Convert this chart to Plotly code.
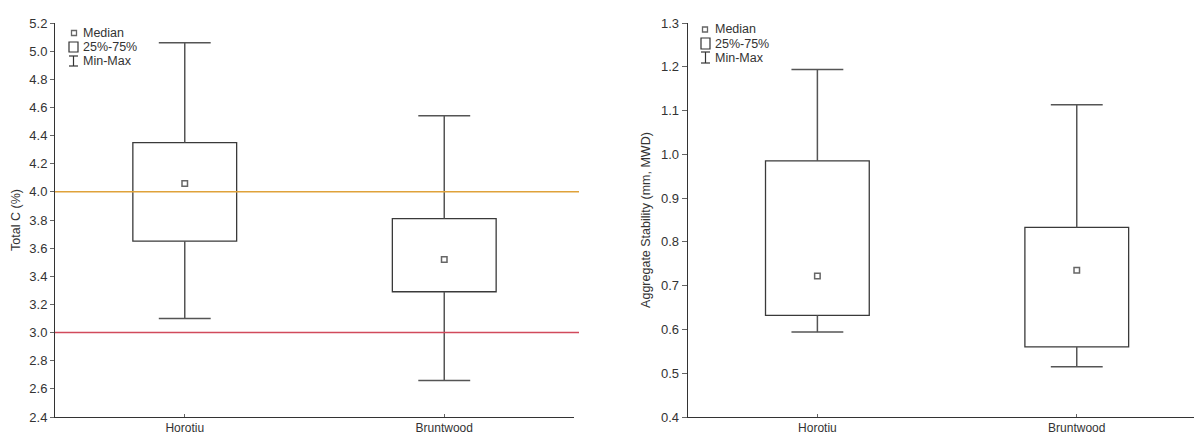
import plotly.graph_objects as go

W, H = 1194, 434
ML, MR, MT, MB = 0, 0, 23, 17

# Sites (x categories)
sites = ["Horotiu", "Bruntwood"]

# Total C (%) summary statistics per site
c_min = [3.10, 2.66]
c_q1 = [3.65, 3.29]
c_med = [4.06, 3.52]
c_q3 = [4.35, 3.81]
c_max = [5.06, 4.54]
c_refs = [(4.0, "#DFA23A"), (3.0, "#D14A5C")]

# Aggregate stability (mm, MWD) summary statistics per site
a_min = [0.594, 0.515]
a_q1 = [0.632, 0.560]
a_med = [0.722, 0.735]
a_q3 = [0.985, 0.833]
a_max = [1.194, 1.113]

FONT = "Arial, Liberation Sans, sans-serif"
TXT = "#333333"
BOX_W = 0.40
CAP_W = 0.20

fig = go.Figure()


def px_x(px):
    return (px - ML) / (W - ML - MR)


def px_y(py):
    return (H - MB - py) / (H - MT - MB)


def add_panel(xa, ya, lo, q1, med, q3, hi):
    xs = list(range(len(sites)))
    # interquartile boxes
    fig.add_trace(go.Bar(
        x=xs, y=[b - a for a, b in zip(q1, q3)], base=q1, width=BOX_W,
        marker=dict(color="white", line=dict(color="#3a3a3a", width=1.3)),
        xaxis=xa, yaxis=ya, showlegend=False, hoverinfo="skip"))
    # whiskers
    wx, wy = [], []
    for i in xs:
        wx += [i, i, None, i, i, None]
        wy += [q3[i], hi[i], None, lo[i], q1[i], None]
    fig.add_trace(go.Scatter(x=wx, y=wy, mode="lines",
                             line=dict(color="#555555", width=1.5),
                             xaxis=xa, yaxis=ya, showlegend=False, hoverinfo="skip"))
    # whisker caps
    cx, cy = [], []
    for i in xs:
        for v in (hi[i], lo[i]):
            cx += [i - CAP_W / 2, i + CAP_W / 2, None]
            cy += [v, v, None]
    fig.add_trace(go.Scatter(x=cx, y=cy, mode="lines",
                             line=dict(color="#555555", width=1.5),
                             xaxis=xa, yaxis=ya, showlegend=False, hoverinfo="skip"))
    # medians
    fig.add_trace(go.Scatter(x=xs, y=med, mode="markers",
                             marker=dict(symbol="square-open", size=5.5, color="#666666",
                                         line=dict(width=1.5)),
                             xaxis=xa, yaxis=ya, showlegend=False, hoverinfo="skip"))


add_panel("x", "y", c_min, c_q1, c_med, c_q3, c_max)
add_panel("x2", "y2", a_min, a_q1, a_med, a_q3, a_max)

# reference lines on the Total C panel
for val, col in c_refs:
    fig.add_shape(type="line", xref="paper", yref="y",
                  x0=px_x(55), x1=px_x(579), y0=val, y1=val,
                  line=dict(color=col, width=1.5), layer="above")


def add_key(sq_x, txt_x, y_med, y_box, y_mm, box_x0, box_x1, box_y0, box_y1, mm_y0, mm_y1):
    # median key
    fig.add_shape(type="rect", xref="paper", yref="paper",
                  x0=px_x(sq_x - 2.5), x1=px_x(sq_x + 2.5),
                  y0=px_y(y_med + 2.5), y1=px_y(y_med - 2.5),
                  line=dict(color="#666666", width=1.3))
    # box key
    fig.add_shape(type="rect", xref="paper", yref="paper",
                  x0=px_x(box_x0), x1=px_x(box_x1), y0=px_y(box_y1), y1=px_y(box_y0),
                  line=dict(color="#333333", width=1.2))
    # min-max key
    mx = (box_x0 + box_x1) / 2
    for seg in ((mx, mm_y0, mx, mm_y1), (box_x0, mm_y0, box_x1, mm_y0),
                (box_x0, mm_y1, box_x1, mm_y1)):
        fig.add_shape(type="line", xref="paper", yref="paper",
                      x0=px_x(seg[0]), y0=px_y(seg[1]), x1=px_x(seg[2]), y1=px_y(seg[3]),
                      line=dict(color="#333333", width=1.2))
    for label, yy in (("Median", y_med), ("25%-75%", y_box), ("Min-Max", y_mm)):
        fig.add_annotation(text=label, xref="paper", yref="paper",
                           x=px_x(txt_x), y=px_y(yy), xanchor="left", yanchor="middle",
                           showarrow=False, font=dict(family=FONT, size=12.5, color=TXT))


add_key(74, 81, 33, 47, 61, 69, 78, 42, 52, 56, 66)
add_key(705, 713, 29.5, 44, 58, 701, 710, 38, 49, 52, 63)

axis_common = dict(showline=True, linecolor="#333333", linewidth=1, showgrid=False,
                   zeroline=False, tickcolor="#666666")
yfont = dict(family=FONT, size=13, color=TXT)
xfont = dict(family=FONT, size=12, color=TXT)

fig.update_layout(
    width=W, height=H, margin=dict(l=ML, r=MR, t=MT, b=MB),
    paper_bgcolor="white", plot_bgcolor="white", showlegend=False,
    xaxis=dict(domain=[px_x(55), px_x(574)], range=[-0.5, 1.5], automargin=False,
               tickvals=[0, 1], ticktext=sites, ticks="inside", ticklen=3,
               tickfont=xfont, anchor="y", **axis_common),
    yaxis=dict(domain=[0, 1], range=[2.4, 5.2], dtick=0.2, tick0=2.4, tickformat=".1f",
               ticks="outside", ticklen=4, anchor="x", automargin=True, tickfont=yfont,
               title=dict(text="Total C (%)", standoff=5,
                          font=dict(family=FONT, size=12.5, color=TXT)),
               **axis_common),
    xaxis2=dict(domain=[px_x(687.7), 1.0], range=[-0.5, 1.452], automargin=False,
                tickvals=[0, 1], ticktext=sites, ticks="inside", ticklen=3,
                tickfont=xfont, anchor="y2", **axis_common),
    yaxis2=dict(domain=[0, 1], range=[0.4, 1.3], dtick=0.1, tick0=0.4, tickformat=".1f",
                ticks="outside", ticklen=5, anchor="x2", automargin=True, tickfont=yfont,
                title=dict(text="Aggregate Stability (mm, MWD)", standoff=7,
                           font=dict(family=FONT, size=12.5, color=TXT)),
                **axis_common),
)

fig.write_html("out.html")
